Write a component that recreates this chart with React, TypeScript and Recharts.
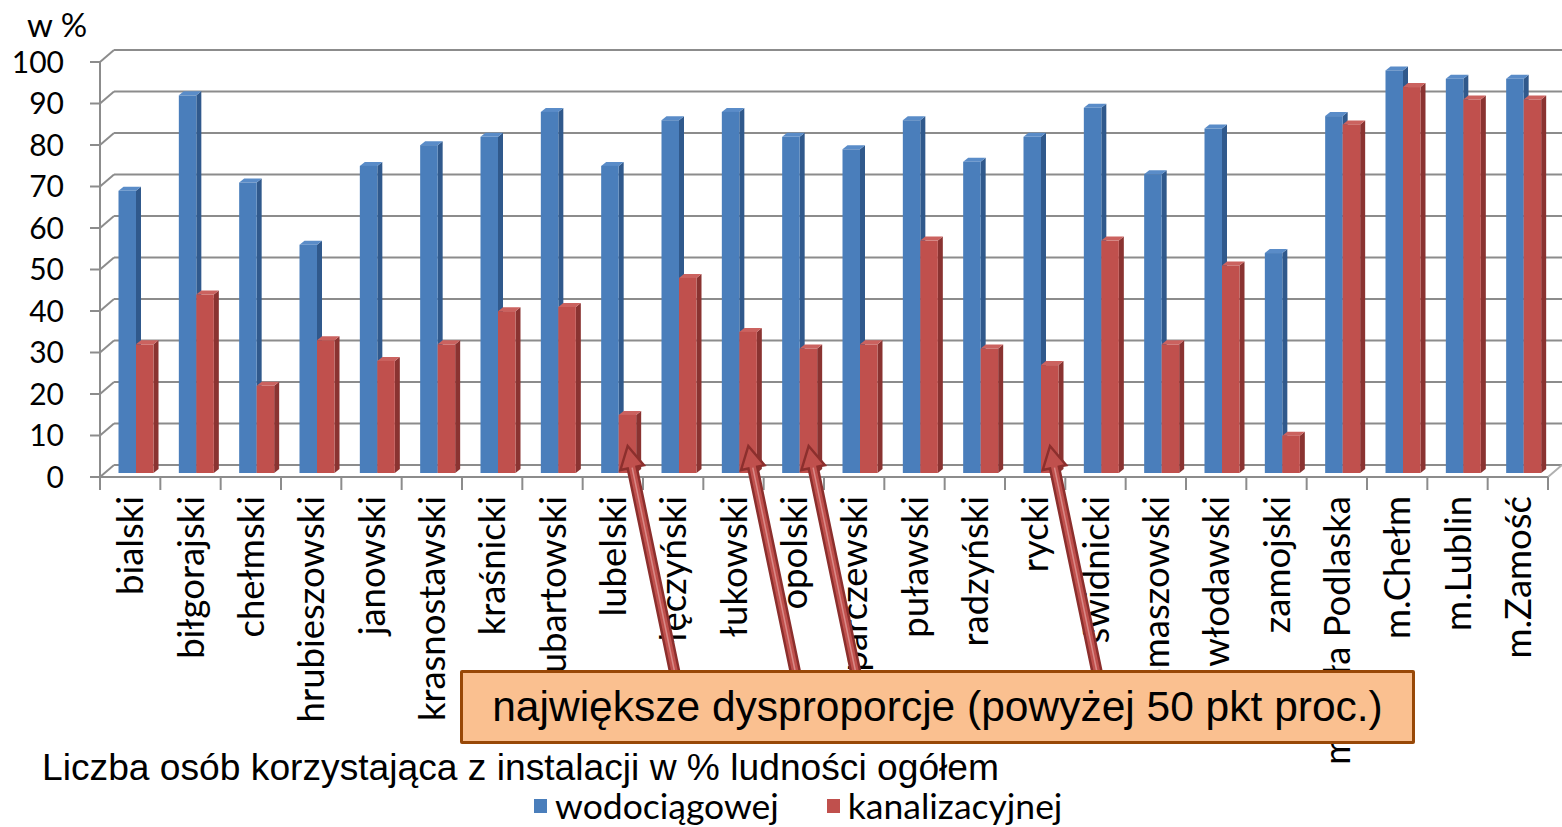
import React from 'react';
import { BarChart, Bar, XAxis, YAxis, CartesianGrid } from 'recharts';

const categories = [
  'bialski', 'biłgorajski', 'chełmski', 'hrubieszowski', 'janowski', 'krasnostawski',
  'kraśnicki', 'lubartowski', 'lubelski', 'łęczyński', 'łukowski', 'opolski',
  'parczewski', 'puławski', 'radzyński', 'rycki', 'świdnicki', 'tomaszowski',
  'włodawski', 'zamojski', 'm.Biała Podlaska', 'm.Chełm', 'm.Lublin', 'm.Zamość',
];
const wodociagowej = [68, 91, 70, 55, 74, 79, 81, 87, 74, 85, 87, 81, 78, 85, 75, 81, 88, 72, 83, 53, 86, 97, 95, 95];
const kanalizacyjnej = [31, 43, 21, 32, 27, 31, 39, 40, 14, 47, 34, 30, 31, 56, 30, 26, 56, 31, 50, 9, 84, 93, 90, 90];
const yTicks = [0, 10, 20, 30, 40, 50, 60, 70, 80, 90, 100];
const seriesNames = ['wodociągowej', 'kanalizacyjnej'];
const unitLabel = 'w %';
const caption = 'Liczba osób korzystająca z instalacji w % ludności ogółem';
const annotationText = 'największe dysproporcje (powyżej 50 pkt proc.)';
const highlighted = ['lubelski', 'łukowski', 'opolski', 'rycki'];

const data = categories.map((name, i) => ({ name, w: wodociagowej[i], k: kanalizacyjnej[i] }));

const W = 1562;
const H = 827;
const PLOT_LEFT = 100;
const PLOT_RIGHT = 1548;
const PLOT_TOP = 62;
const PLOT_BOTTOM = 477;
const BAND = (PLOT_RIGHT - PLOT_LEFT) / categories.length;
const GRID = '#8c8c8c';
const WALL_DX = 14;
const WALL_DY = 12;

const BLUE = { front: '#4A7EBB', side: '#30598C', top: '#5A8CC8' };
const RED = { front: '#C0504D', side: '#8A3331', top: '#CB625F' };

const make3D = (c: { front: string; side: string; top: string }) => (props: any) => {
  const { x, y, width, height } = props;
  if (height == null || height <= 0) return <g />;
  const X = x + 5.5;
  const Y = y - 4;
  const w = width;
  const h = height;
  const dx = 5;
  const dy = 4;
  return (
    <g>
      <polygon points={`${X + w},${Y} ${X + w + dx},${Y - dy} ${X + w + dx},${Y + h - dy} ${X + w},${Y + h}`} fill={c.side} />
      <polygon points={`${X},${Y} ${X + dx},${Y - dy} ${X + w + dx},${Y - dy} ${X + w},${Y}`} fill={c.top} />
      <rect x={X} y={Y} width={w} height={h} fill={c.front} />
    </g>
  );
};

const gridLine = (props: any) => {
  const { x1, y1, x2, index } = props;
  return (
    <g key={`grid-${index}-${y1}`}>
      <line x1={x1} y1={y1} x2={x1 + WALL_DX} y2={y1 - WALL_DY} stroke={GRID} strokeWidth={2} />
      <line x1={x1 + WALL_DX} y1={y1 - WALL_DY} x2={x2 + WALL_DX} y2={y1 - WALL_DY} stroke={GRID} strokeWidth={2} />
      {y1 > PLOT_BOTTOM - 3 ? (
        <line x1={x2} y1={y1} x2={x2 + WALL_DX} y2={y1 - WALL_DY} stroke="#b0b0b0" strokeWidth={2} />
      ) : null}
    </g>
  );
};

const YTick = (props: any) => {
  const { y, payload } = props;
  return (
    <text x={64} y={y} dy="0.36em" textAnchor="end" fontFamily="Lato" fontSize={30} fill="#000">
      {payload.value}
    </text>
  );
};

const XTick = (props: any) => {
  const { x, y, payload, index } = props;
  const half = payload && payload.offset > 0 ? payload.offset : BAND / 2;
  const last = index === categories.length - 1;
  return (
    <g>
      <line x1={x - half} y1={y} x2={x - half} y2={y + 13} stroke={GRID} strokeWidth={2} />
      {last ? <line x1={x + half} y1={y} x2={x + half} y2={y + 13} stroke={GRID} strokeWidth={2} /> : null}
      <text
        transform={`translate(${x},${y + 19}) rotate(-90)`}
        textAnchor="end"
        dy="0.36em"
        fontFamily="Lato"
        fontSize={36.5}
        fill="#000"
      >
        {payload.value}
      </text>
    </g>
  );
};

const Arrow = ({ tipX, tipY, tailX, tailY }: { tipX: number; tipY: number; tailX: number; tailY: number }) => {
  const ang = Math.atan2(tailY - tipY, tailX - tipX);
  const ux = Math.cos(ang);
  const uy = Math.sin(ang);
  const px = -uy;
  const py = ux;
  const headLen = 22;
  const headW = 12;
  const shaftW = 4.5;
  const bx = tipX + ux * headLen;
  const by = tipY + uy * headLen;
  const pts = [
    [tipX, tipY],
    [bx + px * headW, by + py * headW],
    [bx + px * shaftW, by + py * shaftW],
    [tailX + px * shaftW, tailY + py * shaftW],
    [tailX - px * shaftW, tailY - py * shaftW],
    [bx - px * shaftW, by - py * shaftW],
    [bx - px * headW, by - py * headW],
  ]
    .map((p) => `${p[0]},${p[1]}`)
    .join(' ');
  return (
    <g>
      <polygon points={pts} fill="#C0504D" stroke="#8C2F2D" strokeWidth={2.5} strokeLinejoin="miter" />
      <line x1={bx} y1={by} x2={tailX} y2={tailY} stroke="#D98A88" strokeWidth={1.5} />
    </g>
  );
};

export default function App() {
  const arrows = highlighted.map((name) => {
    const i = categories.indexOf(name);
    const tipX = PLOT_LEFT + i * BAND + 45;
    return { tipX, tipY: 446, tailX: tipX + 47, tailY: 672 };
  });

  return (
    <div style={{ position: 'absolute', left: 0, top: 0, width: W, height: H, background: '#fff', overflow: 'hidden' }}>
      <div style={{ position: 'absolute', left: 27, top: 4, fontFamily: 'Lato', fontSize: 33, color: '#000', lineHeight: '40px' }}>
        {unitLabel}
      </div>
      <BarChart
        width={W}
        height={H}
        data={data}
        margin={{ top: PLOT_TOP, right: W - PLOT_RIGHT, bottom: 0, left: 0 }}
        barGap={0}
        barSize={17.5}
      >
        <CartesianGrid vertical={false} horizontal={gridLine} />
        <YAxis
          type="number"
          domain={[0, 100]}
          ticks={yTicks}
          width={PLOT_LEFT}
          axisLine={{ stroke: GRID, strokeWidth: 2 }}
          tickLine={{ stroke: GRID, strokeWidth: 2 }}
          tickSize={10}
          tick={<YTick />}
        />
        <XAxis
          dataKey="name"
          interval={0}
          height={H - PLOT_BOTTOM}
          axisLine={{ stroke: GRID, strokeWidth: 2 }}
          tickLine={false}
          tickSize={0}
          tickMargin={0}
          tick={<XTick />}
        />
        <Bar dataKey="w" name={seriesNames[0]} fill={BLUE.front} shape={make3D(BLUE)} isAnimationActive={false} />
        <Bar dataKey="k" name={seriesNames[1]} fill={RED.front} shape={make3D(RED)} isAnimationActive={false} />
      </BarChart>
      <svg width={W} height={H} style={{ position: 'absolute', left: 0, top: 0, pointerEvents: 'none' }}>
        {arrows.map((a, i) => (
          <Arrow key={i} {...a} />
        ))}
      </svg>
      <div
        style={{
          position: 'absolute',
          left: 460,
          top: 670,
          width: 955,
          height: 74,
          boxSizing: 'border-box',
          background: '#FAC090',
          border: '3.5px solid #984807',
          borderRadius: 2,
          fontFamily: '"Liberation Sans", Arial, sans-serif',
          fontSize: 42.5,
          color: '#000',
          display: 'flex',
          alignItems: 'center',
          justifyContent: 'center',
          whiteSpace: 'nowrap',
        }}
      >
        {annotationText}
      </div>
      <div
        style={{
          position: 'absolute',
          left: 42,
          top: 745,
          fontFamily: '"Liberation Sans", Arial, sans-serif',
          fontSize: 37.2,
          color: '#000',
          lineHeight: '44px',
          whiteSpace: 'nowrap',
        }}
      >
        {caption}
      </div>
      <div
        style={{
          position: 'absolute',
          left: 534,
          top: 786,
          display: 'flex',
          alignItems: 'center',
          fontFamily: 'Lato',
          fontSize: 35.5,
          color: '#000',
          lineHeight: '40px',
          whiteSpace: 'nowrap',
        }}
      >
        <span style={{ display: 'inline-block', width: 13, height: 14, background: BLUE.front, marginRight: 8 }} />
        <span style={{ marginRight: 48 }}>{seriesNames[0]}</span>
        <span style={{ display: 'inline-block', width: 13, height: 14, background: RED.front, marginRight: 8 }} />
        <span>{seriesNames[1]}</span>
      </div>
    </div>
  );
}
